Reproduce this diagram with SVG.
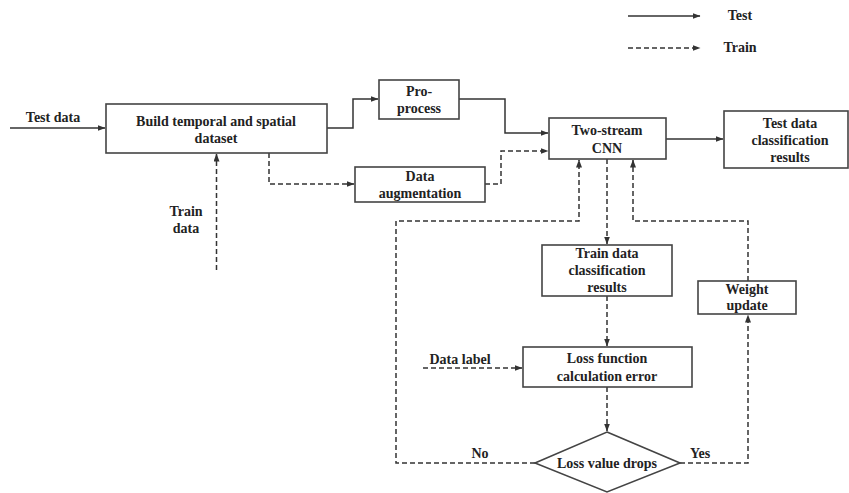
<svg xmlns="http://www.w3.org/2000/svg" width="849" height="493" viewBox="0 0 849 493">
<style>
.box{fill:#fff;stroke:#444;stroke-width:1.6}
.t{font-family:"Liberation Serif","Times New Roman",serif;font-weight:bold;font-size:14px;fill:#222;text-anchor:middle}
.s{fill:none;stroke:#333;stroke-width:1.5}
.d{fill:none;stroke:#333;stroke-width:1.5;stroke-dasharray:5,3}
</style>
<defs>
<marker id="ah" markerWidth="8" markerHeight="6" refX="7.5" refY="3" orient="auto" markerUnits="userSpaceOnUse">
<path d="M0,0 L8,3 L0,6 Z" fill="#333"/>
</marker>
</defs>
<g id="legend">
<line class="s" x1="628" y1="16" x2="700" y2="16" marker-end="url(#ah)"/>
<text class="t" x="740" y="20">Test</text>
<line class="d" x1="628" y1="48" x2="700" y2="48" marker-end="url(#ah)"/>
<text class="t" x="740" y="52">Train</text>
</g>
<g id="connectors">
<line class="s" x1="10" y1="128" x2="105" y2="128" marker-end="url(#ah)"/>
<polyline class="s" points="327,128 353,128 353,99 378,99" marker-end="url(#ah)"/>
<polyline class="s" points="459,99 505,99 505,133 548,133" marker-end="url(#ah)"/>
<line class="s" x1="666" y1="139" x2="723" y2="139" marker-end="url(#ah)"/>
<polyline class="d" points="269,153 269,184 354,184" marker-end="url(#ah)"/>
<polyline class="d" points="485,184 501,184 501,151 548,151" marker-end="url(#ah)"/>
<line class="d" x1="216.5" y1="270" x2="216.5" y2="154" marker-end="url(#ah)"/>
<line class="d" x1="607" y1="159" x2="607" y2="244" marker-end="url(#ah)"/>
<line class="d" x1="607" y1="296" x2="607" y2="346" marker-end="url(#ah)"/>
<line class="d" x1="423" y1="368" x2="522" y2="368" marker-end="url(#ah)"/>
<line class="d" x1="607" y1="387" x2="607" y2="431" marker-end="url(#ah)"/>
<polyline class="d" points="535,463 396,463 396,221 579,221 579,160" marker-end="url(#ah)"/>
<polyline class="d" points="680,463 748,463 748,315" marker-end="url(#ah)"/>
<polyline class="d" points="748,281 748,221 633,221 633,160" marker-end="url(#ah)"/>
</g>
<text class="t" x="53" y="122">Test data</text>
<text class="t" x="186" y="216">Train</text>
<text class="t" x="186" y="233">data</text>
<text class="t" x="460" y="364">Data label</text>
<text class="t" x="480" y="458">No</text>
<text class="t" x="700" y="458">Yes</text>
<g id="build">
<rect class="box" x="106" y="104" width="221" height="49"/>
<text class="t" x="216" y="126">Build temporal and spatial</text>
<text class="t" x="216" y="143">dataset</text>
</g>
<g id="preprocess">
<rect class="box" x="379" y="80" width="80" height="39"/>
<text class="t" x="419" y="96">Pro-</text>
<text class="t" x="419" y="113">process</text>
</g>
<g id="augmentation">
<rect class="box" x="355" y="167" width="130" height="35"/>
<text class="t" x="420" y="181">Data</text>
<text class="t" x="420" y="198">augmentation</text>
</g>
<g id="cnn">
<rect class="box" x="549" y="118" width="117" height="41"/>
<text class="t" x="607" y="135">Two-stream</text>
<text class="t" x="607" y="153">CNN</text>
</g>
<g id="test-results">
<rect class="box" x="724" y="111" width="124" height="57"/>
<text class="t" x="790" y="128">Test data</text>
<text class="t" x="790" y="145">classification</text>
<text class="t" x="790" y="162">results</text>
</g>
<g id="train-results">
<rect class="box" x="542" y="245" width="130" height="51"/>
<text class="t" x="607" y="258">Train data</text>
<text class="t" x="607" y="275">classification</text>
<text class="t" x="607" y="292">results</text>
</g>
<g id="weight-update">
<rect class="box" x="698" y="281" width="98" height="33"/>
<text class="t" x="747" y="294">Weight</text>
<text class="t" x="747" y="310">update</text>
</g>
<g id="loss">
<rect class="box" x="523" y="347" width="169" height="40"/>
<text class="t" x="607" y="363">Loss function</text>
<text class="t" x="607" y="381">calculation error</text>
</g>
<g id="decision">
<polygon class="box" points="607,432 680,463 607,492 535,463"/>
<text class="t" x="607" y="468">Loss value drops</text>
</g>
</svg>
